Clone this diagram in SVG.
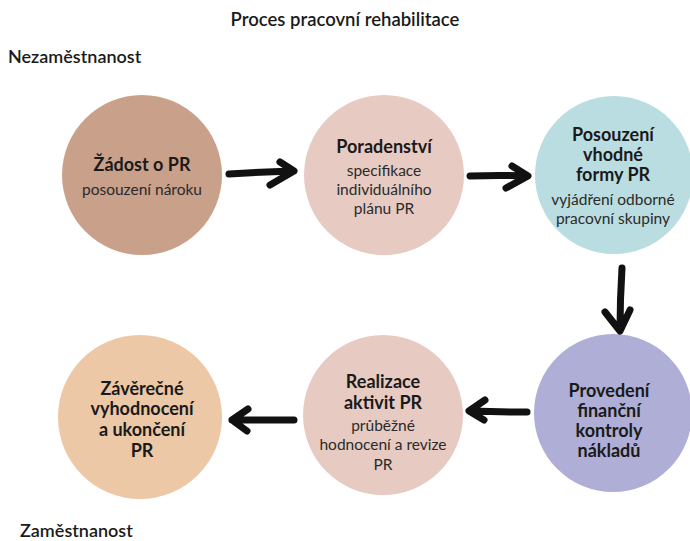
<svg xmlns="http://www.w3.org/2000/svg" width="690" height="541" viewBox="0 0 690 541">
<style>
text{font-family:Lato,"Open Sans","Noto Sans",sans-serif;fill:#1a1a1a;text-anchor:middle}
.t{font-size:18px;font-weight:700}
.s{font-size:15.5px;font-weight:400;fill:#2a2a2a}
.lbl{font-size:18px;font-weight:600;text-anchor:start}
.arr{fill:none;stroke:#111;stroke-width:7;stroke-linecap:round;stroke-linejoin:round}
</style>
<rect width="690" height="541" fill="#fff"/>
<text x="345" y="26" style="font-size:18.5px;font-weight:600">Proces pracovní rehabilitace</text>
<text x="8" y="63" class="lbl">Nezaměstnanost</text>
<text x="20" y="537" class="lbl">Zaměstnanost</text>
<g id="n1"><circle cx="142" cy="175" r="80" fill="#c9a08a"/>
<text x="142" y="171" class="t">Žádost o PR</text>
<text x="142" y="195" class="s">posouzení nároku</text></g>
<g id="n2"><circle cx="384" cy="175" r="80" fill="#e7cbc2"/>
<text x="384" y="153" class="t">Poradenství</text>
<text x="384" y="176" class="s">specifikace</text>
<text x="384" y="195" class="s">individuálního</text>
<text x="384" y="214" class="s">plánu PR</text></g>
<g id="n3"><circle cx="614" cy="175" r="79" fill="#badde1"/>
<text x="613" y="141" class="t">Posouzení</text>
<text x="613" y="161" class="t">vhodné</text>
<text x="613" y="181" class="t">formy PR</text>
<text x="613" y="205" class="s">vyjádření odborné</text>
<text x="613" y="224" class="s">pracovní skupiny</text></g>
<g id="n4"><circle cx="613" cy="413" r="79" fill="#aeaed6"/>
<text x="609" y="397" class="t">Provedení</text>
<text x="609" y="417" class="t">finanční</text>
<text x="609" y="437" class="t">kontroly</text>
<text x="609" y="457" class="t">nákladů</text></g>
<g id="n5"><circle cx="383" cy="415" r="80" fill="#e7cbc2"/>
<text x="383" y="388" class="t">Realizace</text>
<text x="383" y="409" class="t">aktivit PR</text>
<text x="383" y="431" class="s">průběžné</text>
<text x="383" y="450" class="s">hodnocení a revize</text>
<text x="383" y="470" class="s">PR</text></g>
<g id="n6"><circle cx="140" cy="417" r="82" fill="#ecc8a7"/>
<text x="142" y="395" class="t">Závěrečné</text>
<text x="142" y="415" class="t">vyhodnocení</text>
<text x="142" y="436" class="t">a ukončení</text>
<text x="142" y="457" class="t">PR</text></g>
<g id="connectors">
<path class="arr" d="M229 174 Q260 172 293 171 M280 162 L294 171 L270 185"/>
<path class="arr" d="M470 176 Q500 175 527 176 M512 166 L528 176 L506 188"/>
<path class="arr" d="M622 268 Q620 300 620 330 M605 312 L620 331 L630 310"/>
<path class="arr" d="M527 412 Q500 412 470 411 M485 400 L469 411 L484 420"/>
<path class="arr" d="M294 420 Q262 420 232 420 M248 409 L232 420 L247 431"/>
</g>
</svg>
